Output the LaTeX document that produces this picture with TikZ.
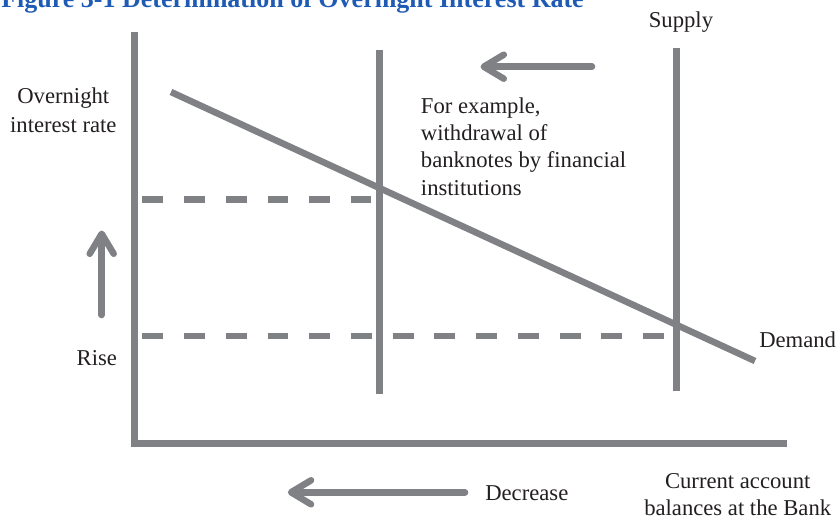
\documentclass[tikz,border=0pt]{standalone}
\usepackage{fontspec}
\setmainfont{Liberation Serif}
\usetikzlibrary{arrows.meta, positioning}
\definecolor{lineGrey}{HTML}{808185}
\definecolor{titleBlue}{HTML}{1F5BB4}
\definecolor{inkBlack}{HTML}{231F20}

\begin{document}
\begin{tikzpicture}[x=0.75pt, y=-0.75pt,
  font=\fontsize{17}{20.4}\selectfont,
  lbl/.style={inner sep=0pt, text=inkBlack},
  axisline/.style={draw=lineGrey, line width=4.9pt},
  guide/.style={draw=lineGrey, line width=5.1pt, dash pattern=on 15.7pt off 15.6pt},
  shiftarrow/.style={draw=lineGrey, line width=4.9pt, line cap=round,
                     -{Straight Barb[round, length=15pt, width=18pt]}}]
  \useasboundingbox (0,0) rectangle (837,518);
  \clip (0,0) rectangle (837,518);

  % title, cut at the top edge
  \node[anchor=base west, inner sep=0pt, text=titleBlue,
        font=\fontsize{19.5}{23}\selectfont\bfseries] (title) at (1,7)
    {Figure 3-1 Determination of Overnight Interest Rate};

  % axes
  \coordinate (ytop) at (134.3,31.7);
  \coordinate (origin) at (134.3,443.3);
  \coordinate (xend) at (787.3,443.3);
  \draw[axisline] (ytop) -- (origin) -- (xend);

  % supply before and after the shift
  \coordinate (supA top) at (379.3,50);
  \coordinate (supA bot) at (379.3,394);
  \coordinate (supB top) at (676.7,48.3);
  \coordinate (supB bot) at (676.7,390.7);
  \draw[axisline] (supA top) -- (supA bot);
  \draw[axisline] (supB top) -- (supB bot);

  % demand
  \coordinate (dem start) at (171,92);
  \coordinate (dem end) at (755,361);
  \draw[axisline] (dem start) -- (dem end);

  % rate levels
  \coordinate (hiA) at (142.3,199.3);
  \coordinate (hiB) at (371.3,199.3);
  \coordinate (loA) at (142.3,336);
  \coordinate (loB) at (663.5,336);
  \draw[guide] (hiA) -- (hiB);
  \draw[guide] (loA) -- (loB);

  % labels (base of a multi-line node = its last line)
  \node[lbl, align=center, font=\fontsize{17}{22}\selectfont, anchor=base] (ylabel) at (63.3,132.7)
    {Overnight\\interest rate};
  \node[lbl, anchor=base east] (riselabel) at (117.3,365) {Rise};
  \node[lbl, anchor=base] (supplylabel) at (681,27.3) {Supply};
  \node[lbl, anchor=base west] (demandlabel) at (759,347) {Demand};
  \node[lbl, align=center, font=\fontsize{17}{20}\selectfont, anchor=base] (xlabel) at (737.7,515)
    {Current account\\balances at the Bank};
  \node[lbl, anchor=base west] (decreaselabel) at (485,500) {Decrease};
  \node[lbl, align=left, anchor=base west] (note) at (420.7,195)
    {For example,\\withdrawal of\\banknotes by financial\\institutions};

  % movements
  \coordinate (shift tail) at (592,66.7);
  \coordinate (shift tip) at (480.5,66.7);
  \draw[shiftarrow] (shift tail) -- (shift tip);
  \coordinate (rise tail) at (101.7,315);
  \coordinate (rise tip) at (101.7,230.5);
  \draw[shiftarrow] (rise tail) -- (rise tip);
  \coordinate (dec tail) at (465,492.3);
  \coordinate (dec tip) at (287.8,492.3);
  \draw[shiftarrow] (dec tail) -- (dec tip);
\end{tikzpicture}
\end{document}
